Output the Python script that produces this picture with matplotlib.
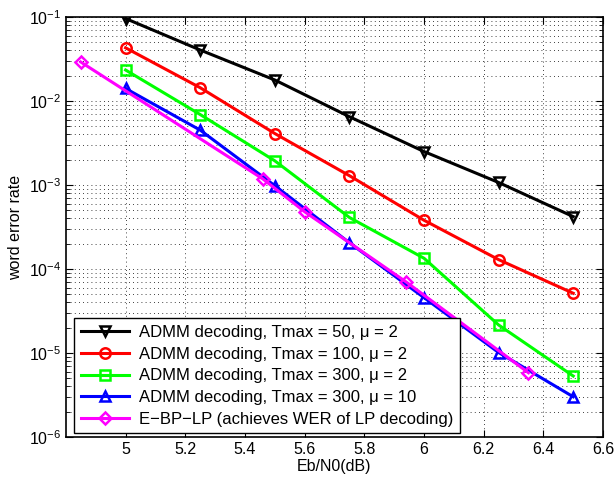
import numpy as np
import matplotlib
matplotlib.use('Agg')
import matplotlib.pyplot as plt
from matplotlib.ticker import LogLocator, NullFormatter

plt.rcParams['font.family'] = ['Liberation Sans', 'DejaVu Sans']
plt.rcParams['mathtext.fontset'] = 'custom'
plt.rcParams['mathtext.rm'] = 'Liberation Sans'

# Eb/N0 points (dB)
snr = [5, 5.25, 5.5, 5.75, 6, 6.25, 6.5]
wer_t50 = [0.096, 0.0405, 0.0178, 0.0065, 0.0025, 0.00107, 0.00042]
wer_t100 = [0.043, 0.0144, 0.0041, 0.00129, 0.00038, 0.000129, 0.0000513]
wer_t300 = [0.0234, 0.0069, 0.00194, 0.00041, 0.000134, 0.0000215, 0.0000053]
wer_t300_mu10 = [0.0141, 0.0045, 0.00098, 0.000205, 0.0000455, 0.0000101, 0.0000030]
snr_lp = [4.85, 5.46, 5.6, 5.94, 6.35]
wer_lp = [0.0291, 0.00118, 0.00048, 0.00007, 0.0000058]

labels = ['ADMM decoding, Tmax = 50, μ = 2',
          'ADMM decoding, Tmax = 100, μ = 2',
          'ADMM decoding, Tmax = 300, μ = 2',
          'ADMM decoding, Tmax = 300, μ = 10',
          'E\u2212BP\u2212LP (achieves WER of LP decoding)']

fig = plt.figure(figsize=(6.16, 4.87), dpi=100)
ax = fig.add_axes([0.107, 0.103, 0.872, 0.862])

kw = dict(linewidth=2.2, markersize=7.5, markeredgewidth=1.8, markerfacecolor='none')
ax.semilogy(snr, wer_t50, color='black', marker='v', label=labels[0], **kw)
ax.semilogy(snr, wer_t100, color='red', marker='o', label=labels[1], **kw)
ax.semilogy(snr, wer_t300, color='#00ff00', marker='s', label=labels[2], **kw)
ax.semilogy(snr, wer_t300_mu10, color='blue', marker='^', label=labels[3], **kw)
ax.semilogy(snr_lp, wer_lp, color='magenta', marker='D', label=labels[4],
            linewidth=2.2, markersize=6, markeredgewidth=1.8, markerfacecolor='none')

ax.set_xlim(4.8, 6.6)
ax.set_ylim(1e-6, 1e-1)
ax.set_xticks([5, 5.2, 5.4, 5.6, 5.8, 6, 6.2, 6.4, 6.6])
ax.set_xticklabels(['5', '5.2', '5.4', '5.6', '5.8', '6', '6.2', '6.4', '6.6'])
ax.yaxis.set_major_locator(LogLocator(base=10, numticks=10))
ax.yaxis.set_minor_locator(LogLocator(base=10, subs=np.arange(2, 10), numticks=20))
ax.yaxis.set_minor_formatter(NullFormatter())

ax.grid(which='major', axis='both', color='black', linestyle=(0, (1, 4)), linewidth=0.6)
ax.grid(which='minor', axis='y', color='black', linestyle=(0, (1, 4)), linewidth=0.6)
ax.tick_params(which='both', direction='in', top=True, right=True, labelsize=11.5)
ax.tick_params(which='major', length=5)
ax.tick_params(which='minor', length=3)
for s in ax.spines.values():
    s.set_linewidth(1.2)

ax.set_xlabel('Eb/N0(dB)', fontsize=11.5, labelpad=2)
ax.set_ylabel('word error rate', fontsize=11.5, labelpad=4)

leg = ax.legend(loc='lower left', bbox_to_anchor=(0.015, 0.008), borderaxespad=0,
                fontsize=12, handlelength=2.9, handletextpad=0.6, borderpad=0.4,
                labelspacing=0.4, fancybox=False, framealpha=1, edgecolor='black')
leg.get_frame().set_linewidth(1.0)

fig.savefig('out.png', dpi=100)
